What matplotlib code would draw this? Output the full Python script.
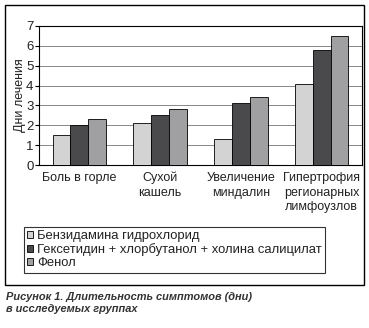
import matplotlib
matplotlib.use("Agg")
import matplotlib.pyplot as plt
import numpy as np

plt.rcParams['font.family'] = ['Liberation Sans', 'DejaVu Sans']

categories = ["Боль в горле", "Сухой\nкашель", "Увеличение\nминдалин", "Гипертрофия\nрегионарных\nлимфоузлов"]
series_names = ["Бензидамина гидрохлорид",
                "Гексетидин + хлорбутанол + холина салицилат",
                "Фенол"]
benz = [1.5, 2.1, 1.3, 4.1]
hex_ = [2.0, 2.5, 3.1, 5.8]
phen = [2.3, 2.8, 3.4, 6.5]
colors = ["#d3d3d3", "#4a4a4c", "#a0a0a3"]

W, H = 369, 328
fig = plt.figure(figsize=(W / 100, H / 100), dpi=100)

# outer frame
fig.patches.append(plt.Rectangle((5 / W, 1 - 285 / H), 359 / W, 280 / H,
                                 transform=fig.transFigure, fill=False,
                                 edgecolor="black", linewidth=1.0))

ax = fig.add_axes([39 / W, 1 - 165 / H, 323 / W, 139 / H])
x = np.arange(len(categories))
bw = 0.22
for i, vals in enumerate([benz, hex_, phen]):
    ax.bar(x + (i - 1) * bw, vals, bw, color=colors[i], edgecolor="black",
           linewidth=0.6, label=series_names[i], zorder=3)

ax.set_xlim(-0.5, len(categories) - 0.5)
ax.set_ylim(0, 7)
ax.set_yticks(range(8))
ax.yaxis.grid(True, color="#888888", linewidth=0.7, zorder=0)
ax.set_xticks(x)
ax.set_xticklabels(categories, fontsize=9, color="#222222", linespacing=1.3,
                   va="top")
ax.tick_params(axis="x", length=0, pad=5)
ax.tick_params(axis="y", length=3, labelsize=9.5, pad=1, labelcolor="#222222")
ax.set_ylabel("Дни лечения", fontsize=9, color="#222222", labelpad=0)
for s in ax.spines.values():
    s.set_linewidth(0.8)

leg = fig.legend(loc="upper left", bbox_to_anchor=(24 / W, 1 - 227 / H),
                 fontsize=9.4, frameon=True, fancybox=False, edgecolor="black",
                 handlelength=0.45, handleheight=0.45, handletextpad=0.3,
                 labelspacing=0.08, borderpad=0.25, borderaxespad=0)
leg.get_frame().set_linewidth(0.8)
for t in leg.get_texts():
    t.set_color("#222222")

fig.text(6 / W, 1 - 303 / H, "Рисунок 1. Длительность симптомов (дни)\nв исследуемых группах",
         fontsize=7.9, fontweight="bold", fontstyle="italic", color="#333333",
         va="center", ha="left", linespacing=1.25)

fig.savefig("out.png", dpi=100)
